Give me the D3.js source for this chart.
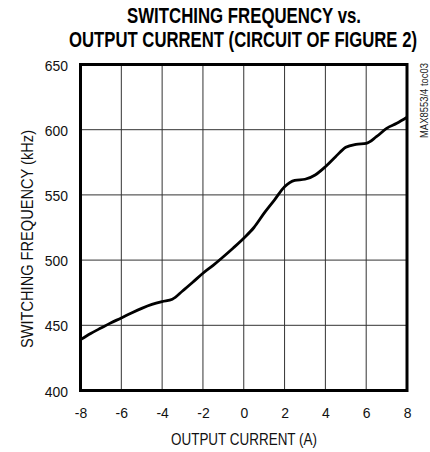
<!DOCTYPE html>
<html><head><meta charset="utf-8">
<script src="https://cdn.jsdelivr.net/npm/d3@7"></script>
<style>
body{margin:0;background:#fff;}
text{font-family:"Liberation Sans",Arial,sans-serif;}
</style></head>
<body><svg id="c" width="430" height="452"></svg>
<script>
const current = [-8,-7.5,-7,-6.5,-6,-5.5,-5,-4.5,-4,-3.5,-3,-2.5,-2,-1.5,-1,-0.5,0,0.5,1,1.5,2,2.5,3,3.5,4,4.5,5,5.5,6,6.5,7,7.5,8];
const freq = [439,443.7,447.9,452,455.6,459.5,463,466,468.2,470,476.3,483,489.9,496,502.6,509.5,516.8,525,536,546,556.3,561.2,562,565.3,571.6,579.3,586.5,588.8,589.5,594.6,601,604.9,609.5];
const xTicks = [-8,-6,-4,-2,0,2,4,6,8];
const yTicks = [400,450,500,550,600,650];
const titleLines = ["SWITCHING FREQUENCY vs.","OUTPUT CURRENT (CIRCUIT OF FIGURE 2)"];

const svg = d3.select("#c");
const L=80.5,R=407,T=64.5,B=390.5;
const x = d3.scaleLinear().domain([-8,8]).range([L,R]);
const y = d3.scaleLinear().domain([400,650]).range([B,T]);
const SX = 0.9;

// grid
svg.append("g").selectAll("line").data(xTicks.slice(1,-1)).join("line")
  .attr("x1",d=>x(d)).attr("x2",d=>x(d)).attr("y1",T).attr("y2",B)
  .attr("stroke","#333").attr("stroke-width",1);
svg.append("g").selectAll("line").data(yTicks.slice(1,-1)).join("line")
  .attr("y1",d=>y(d)).attr("y2",d=>y(d)).attr("x1",L).attr("x2",R)
  .attr("stroke","#333").attr("stroke-width",1);

// curve
svg.append("path").datum(current.map((c,i)=>[c,freq[i]]))
  .attr("d",d3.line().x(d=>x(d[0])).y(d=>y(d[1])).curve(d3.curveMonotoneX))
  .attr("fill","none").attr("stroke","#000").attr("stroke-width",2.8);

// frame
svg.append("rect").attr("x",L).attr("y",T).attr("width",R-L).attr("height",B-T)
  .attr("fill","none").attr("stroke","#000").attr("stroke-width",3);

// axes labels
const xa = d3.axisBottom(x).tickValues(xTicks).tickSize(0).tickFormat(d=>String(d));
const gx = svg.append("g").attr("transform",`translate(0,${B})`).call(xa);
gx.select(".domain").remove();
gx.selectAll("text").attr("font-size",15.5).attr("fill","#111")
  .attr("y",27.5).attr("dy",null).attr("transform",`scale(${SX},1)`);

const ya = d3.axisLeft(y).tickValues(yTicks).tickSize(0).tickFormat(d=>String(d));
const gy = svg.append("g").attr("transform",`translate(${L},0)`).call(ya);
gy.select(".domain").remove();
gy.selectAll("text").attr("font-size",15.5).attr("fill","#111")
  .attr("x",-12.5/SX).attr("dy","0.36em").attr("transform",`scale(${SX},1)`);

svg.append("text").attr("x",244).attr("y",445).attr("text-anchor","middle")
  .attr("font-size",17).attr("fill","#111")
  .attr("textLength",146).attr("lengthAdjust","spacingAndGlyphs")
  .text("OUTPUT CURRENT (A)");
svg.append("text").attr("transform",`translate(33,239) rotate(-90)`)
  .attr("text-anchor","middle").attr("font-size",17).attr("fill","#111")
  .attr("textLength",218).attr("lengthAdjust","spacingAndGlyphs")
  .text("SWITCHING FREQUENCY (kHz)");

svg.append("text").attr("transform",`translate(428,138) rotate(-90)`)
  .attr("text-anchor","start").attr("font-size",10.5).attr("fill","#222")
  .attr("textLength",75).attr("lengthAdjust","spacingAndGlyphs")
  .text("MAX8553/4 toc03");

const tw = [234,348];
svg.append("g").selectAll("text").data(titleLines).join("text")
  .attr("transform",(d,i)=>`translate(${i===0?244:243},${23+i*23.5}) scale(1,1.3)`)
  .attr("text-anchor","middle")
  .attr("font-size",16.5).attr("font-weight","bold").attr("fill","#000")
  .attr("textLength",(d,i)=>tw[i]).attr("lengthAdjust","spacingAndGlyphs")
  .text(d=>d);
</script></body></html>
